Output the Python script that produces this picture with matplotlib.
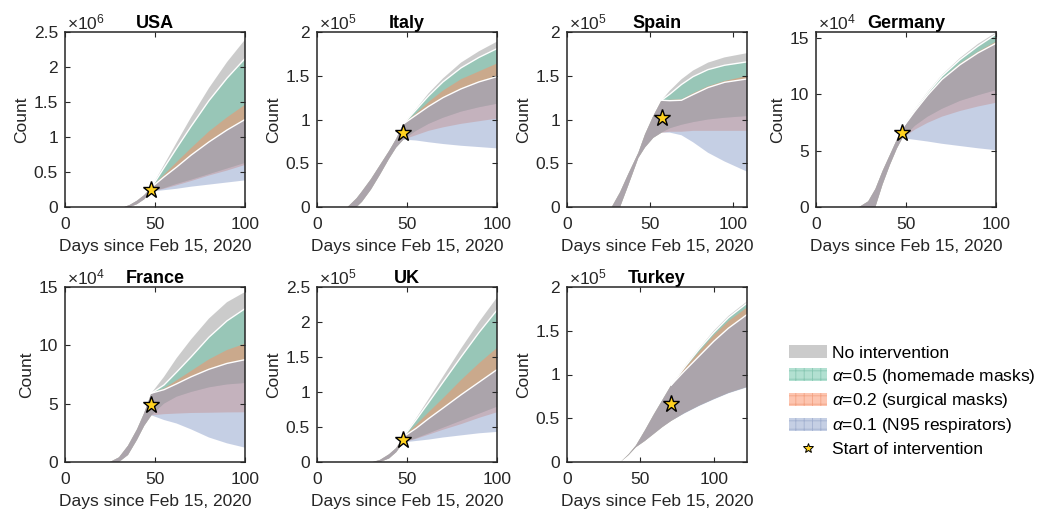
import matplotlib
matplotlib.use('Agg')
import matplotlib.pyplot as plt
from matplotlib.patches import Patch
from matplotlib.lines import Line2D
from matplotlib.ticker import FuncFormatter

plt.rcParams['font.family'] = ['Liberation Sans', 'DejaVu Sans']
plt.rcParams['mathtext.fontset'] = 'custom'
plt.rcParams['mathtext.rm'] = 'Liberation Sans'
plt.rcParams['mathtext.it'] = 'Liberation Sans:italic'
plt.rcParams['hatch.linewidth'] = 0.6

# ---------------- data (counts in units of the axis multiplier) ----------------
# USA (x1e6)
usa_pre_days = [33, 36, 40, 44, 48]
usa_pre_lo = [0, 0, 0.04, 0.11, 0.22]
usa_pre_hi = [0, 0.03, 0.09, 0.17, 0.28]
usa_days = [48, 55, 62, 70, 80, 90, 100]
usa_none_hi = [0.28, 0.60, 0.92, 1.28, 1.70, 2.07, 2.39]
usa_none_lo = [0.22, 0.27, 0.33, 0.39, 0.47, 0.55, 0.63]
usa_a5_hi = [0.28, 0.56, 0.84, 1.15, 1.52, 1.84, 2.12]
usa_a5_lo = [0.22, 0.27, 0.33, 0.39, 0.47, 0.55, 0.63]
usa_a2_hi = [0.28, 0.46, 0.64, 0.84, 1.08, 1.28, 1.46]
usa_a2_lo = [0.22, 0.26, 0.31, 0.37, 0.45, 0.52, 0.60]
usa_a1_hi = [0.28, 0.43, 0.57, 0.74, 0.93, 1.10, 1.25]
usa_a1_lo = [0.22, 0.24, 0.26, 0.29, 0.32, 0.35, 0.38]
usa_star = [48, 0.25]

# Italy (x1e5)
ita_pre_days = [17, 22, 25, 30, 35, 40, 44, 48]
ita_pre_lo = [0, 0, 0.06, 0.20, 0.37, 0.55, 0.68, 0.77]
ita_pre_hi = [0, 0.10, 0.18, 0.32, 0.48, 0.64, 0.78, 0.95]
ita_days = [48, 55, 62, 70, 80, 90, 100]
ita_none_hi = [0.95, 1.12, 1.30, 1.47, 1.65, 1.78, 1.89]
ita_none_lo = [0.77, 0.87, 0.95, 1.02, 1.09, 1.14, 1.18]
ita_a5_hi = [0.95, 1.11, 1.27, 1.43, 1.59, 1.71, 1.81]
ita_a5_lo = [0.77, 0.87, 0.95, 1.02, 1.09, 1.14, 1.18]
ita_a2_hi = [0.95, 1.07, 1.20, 1.33, 1.46, 1.55, 1.64]
ita_a2_lo = [0.77, 0.82, 0.87, 0.91, 0.95, 0.98, 1.01]
ita_a1_hi = [0.95, 1.05, 1.15, 1.25, 1.35, 1.43, 1.49]
ita_a1_lo = [0.77, 0.76, 0.74, 0.72, 0.70, 0.685, 0.67]
ita_star = [48, 0.85]

# Spain (x1e5)
esp_pre_days = [27, 32, 37, 43, 47, 52, 57]
esp_pre_lo = [0, 0, 0.25, 0.56, 0.68, 0.79, 0.85]
esp_pre_hi = [0, 0.17, 0.38, 0.62, 0.83, 1.04, 1.22]
esp_days = [57, 62, 69, 76, 85, 95, 109]
esp_none_hi = [1.22, 1.33, 1.46, 1.56, 1.65, 1.71, 1.76]
esp_none_lo = [0.85, 0.90, 0.94, 0.97, 1.00, 1.02, 1.04]
esp_a5_hi = [1.22, 1.29, 1.40, 1.49, 1.57, 1.62, 1.66]
esp_a5_lo = [0.85, 0.90, 0.94, 0.97, 1.00, 1.02, 1.04]
esp_a2_hi = [1.22, 1.225, 1.23, 1.30, 1.38, 1.44, 1.50]
esp_a2_lo = [0.85, 0.86, 0.86, 0.87, 0.87, 0.87, 0.87]
esp_a1_hi = [1.22, 1.215, 1.22, 1.285, 1.365, 1.425, 1.465]
esp_a1_lo = [0.85, 0.85, 0.82, 0.74, 0.62, 0.52, 0.40]
esp_star = [57, 1.02]

# Germany (x1e4)
deu_pre_days = [24, 29, 33, 37, 41, 45, 48]
deu_pre_lo = [0, 0, 0, 2.0, 3.7, 5.2, 6.1]
deu_pre_hi = [0, 0.5, 1.6, 3.2, 4.6, 6.0, 7.0]
deu_days = [48, 55, 62, 70, 80, 90, 100]
deu_none_hi = [7.0, 8.7, 10.2, 11.7, 13.2, 14.45, 15.45]
deu_none_lo = [6.1, 7.2, 8.0, 8.7, 9.4, 9.9, 10.35]
deu_a5_hi = [7.0, 8.65, 10.1, 11.6, 13.05, 14.25, 15.3]
deu_a5_lo = [6.1, 7.2, 8.0, 8.7, 9.4, 9.9, 10.35]
deu_a2_hi = [7.0, 8.55, 9.95, 11.35, 12.7, 13.75, 14.65]
deu_a2_lo = [6.1, 6.85, 7.45, 8.0, 8.5, 8.9, 9.23]
deu_a1_hi = [7.0, 8.5, 9.9, 11.3, 12.6, 13.65, 14.5]
deu_a1_lo = [6.1, 5.95, 5.8, 5.6, 5.4, 5.2, 5.03]
deu_star = [48, 6.57]

# France (x1e4)
fra_pre_days = [25, 30, 35, 40, 44, 48]
fra_pre_lo = [0, 0, 0.6, 1.9, 3.1, 4.0]
fra_pre_hi = [0, 0.4, 1.4, 2.8, 4.2, 5.9]
fra_days = [48, 55, 62, 70, 80, 90, 100]
fra_none_hi = [5.9, 7.3, 8.9, 10.5, 12.3, 13.7, 14.57]
fra_none_lo = [4.0, 5.0, 5.6, 6.0, 6.4, 6.65, 6.77]
fra_a5_hi = [5.9, 6.6, 7.7, 9.0, 10.7, 12.1, 13.14]
fra_a5_lo = [4.0, 5.0, 5.6, 6.0, 6.4, 6.65, 6.77]
fra_a2_hi = [5.9, 6.3, 7.0, 7.8, 8.8, 9.6, 10.14]
fra_a2_lo = [4.0, 4.1, 4.15, 4.2, 4.22, 4.25, 4.26]
fra_a1_hi = [5.9, 6.2, 6.7, 7.3, 7.95, 8.45, 8.77]
fra_a1_lo = [4.0, 3.6, 3.3, 2.8, 2.1, 1.6, 1.23]
fra_star = [48, 4.86]

# UK (x1e5)
gbr_pre_days = [31, 35, 40, 44, 48]
gbr_pre_lo = [0, 0, 0.05, 0.14, 0.28]
gbr_pre_hi = [0, 0.03, 0.11, 0.20, 0.36]
gbr_days = [48, 55, 62, 70, 80, 90, 100]
gbr_none_hi = [0.36, 0.62, 0.90, 1.22, 1.62, 2.00, 2.35]
gbr_none_lo = [0.28, 0.34, 0.41, 0.49, 0.59, 0.69, 0.79]
gbr_a5_hi = [0.36, 0.60, 0.85, 1.14, 1.50, 1.85, 2.17]
gbr_a5_lo = [0.28, 0.34, 0.41, 0.49, 0.59, 0.69, 0.79]
gbr_a2_hi = [0.36, 0.53, 0.71, 0.91, 1.17, 1.41, 1.63]
gbr_a2_lo = [0.28, 0.33, 0.39, 0.46, 0.54, 0.63, 0.71]
gbr_a1_hi = [0.36, 0.48, 0.62, 0.77, 0.96, 1.14, 1.32]
gbr_a1_lo = [0.28, 0.30, 0.32, 0.35, 0.38, 0.41, 0.43]
gbr_star = [48, 0.31]

# Turkey (x1e5)
tur_pre_days = [36.5, 42, 47, 53, 59, 65, 71]
tur_pre_lo = [0, 0.08, 0.17, 0.24, 0.32, 0.40, 0.47]
tur_pre_hi = [0, 0.09, 0.19, 0.36, 0.54, 0.71, 0.88]
tur_days = [71, 80, 90, 100, 110, 123]
tur_none_hi = [0.88, 1.09, 1.30, 1.50, 1.67, 1.84]
tur_none_lo = [0.47, 0.56, 0.645, 0.72, 0.79, 0.86]
tur_a5_hi = [0.88, 1.08, 1.29, 1.48, 1.65, 1.82]
tur_a5_lo = [0.47, 0.56, 0.645, 0.72, 0.79, 0.86]
tur_a2_hi = [0.88, 1.07, 1.26, 1.45, 1.61, 1.77]
tur_a2_lo = [0.47, 0.56, 0.645, 0.72, 0.79, 0.86]
tur_a1_hi = [0.88, 1.04, 1.21, 1.38, 1.53, 1.69]
tur_a1_lo = [0.47, 0.555, 0.64, 0.715, 0.785, 0.855]
tur_star = [71, 0.66]

titles = ['USA', 'Italy', 'Spain', 'Germany', 'France', 'UK', 'Turkey']
exponents = [6, 5, 5, 4, 4, 5, 5]
xmaxes = [100, 100, 108.5, 100, 100, 100, 122.6]
ymaxes = [2.5, 2, 2, 15.5, 15, 2.5, 2]
yticks_list = [[0, 0.5, 1, 1.5, 2, 2.5], [0, 0.5, 1, 1.5, 2], [0, 0.5, 1, 1.5, 2],
               [0, 5, 10, 15], [0, 5, 10, 15], [0, 0.5, 1, 1.5, 2, 2.5],
               [0, 0.5, 1, 1.5, 2]]
xticks = [0, 50, 100]
legend_labels = ['No intervention', r'$\alpha$=0.5 (homemade masks)',
                 r'$\alpha$=0.2 (surgical masks)', r'$\alpha$=0.1 (N95 respirators)',
                 'Start of intervention']

countries = [
    (usa_pre_days, usa_pre_lo, usa_pre_hi, usa_days,
     [(usa_none_lo, usa_none_hi), (usa_a5_lo, usa_a5_hi), (usa_a2_lo, usa_a2_hi), (usa_a1_lo, usa_a1_hi)], usa_star),
    (ita_pre_days, ita_pre_lo, ita_pre_hi, ita_days,
     [(ita_none_lo, ita_none_hi), (ita_a5_lo, ita_a5_hi), (ita_a2_lo, ita_a2_hi), (ita_a1_lo, ita_a1_hi)], ita_star),
    (esp_pre_days, esp_pre_lo, esp_pre_hi, esp_days,
     [(esp_none_lo, esp_none_hi), (esp_a5_lo, esp_a5_hi), (esp_a2_lo, esp_a2_hi), (esp_a1_lo, esp_a1_hi)], esp_star),
    (deu_pre_days, deu_pre_lo, deu_pre_hi, deu_days,
     [(deu_none_lo, deu_none_hi), (deu_a5_lo, deu_a5_hi), (deu_a2_lo, deu_a2_hi), (deu_a1_lo, deu_a1_hi)], deu_star),
    (fra_pre_days, fra_pre_lo, fra_pre_hi, fra_days,
     [(fra_none_lo, fra_none_hi), (fra_a5_lo, fra_a5_hi), (fra_a2_lo, fra_a2_hi), (fra_a1_lo, fra_a1_hi)], fra_star),
    (gbr_pre_days, gbr_pre_lo, gbr_pre_hi, gbr_days,
     [(gbr_none_lo, gbr_none_hi), (gbr_a5_lo, gbr_a5_hi), (gbr_a2_lo, gbr_a2_hi), (gbr_a1_lo, gbr_a1_hi)], gbr_star),
    (tur_pre_days, tur_pre_lo, tur_pre_hi, tur_days,
     [(tur_none_lo, tur_none_hi), (tur_a5_lo, tur_a5_hi), (tur_a2_lo, tur_a2_hi), (tur_a1_lo, tur_a1_hi)], tur_star),
]

# ---------------- styling ----------------
band_colors = ['#999999', '#66C2A5', '#FC8D62', '#8DA0CB']
BAND_ALPHA = 0.5
STAR_COLOR = '#FFD21F'
AX_COLOR = '#262626'
FS = 12.5

W, H = 1040, 516
fig = plt.figure(figsize=(W / 100, H / 100), dpi=100)

lefts = [65, 317, 567, 816]
ax_w, ax_h = 180, 175
tops = [32, 287]

fmt = FuncFormatter(lambda v, p: f'{v:g}')

for i, (pre_d, pre_lo, pre_hi, days, bands, star) in enumerate(countries):
    row, col = divmod(i, 4)
    left = lefts[col]
    top = tops[row]
    ax = fig.add_axes([left / W, (H - top - ax_h) / H, ax_w / W, ax_h / H])

    x = list(pre_d) + list(days[1:])
    for (lo, hi), c in zip(bands, band_colors):
        ax.fill_between(x, list(pre_lo) + list(lo[1:]), list(pre_hi) + list(hi[1:]),
                        facecolor=c, alpha=BAND_ALPHA, lw=0, edgecolor='none')
    ax.plot(days, bands[1][1], color='white', lw=1.0)
    ax.plot(days, bands[3][1], color='white', lw=1.0)
    ax.plot([star[0]], [star[1]], marker='*', ls='none', ms=12.5,
            mfc=STAR_COLOR, mec='black', mew=1.0, zorder=5)

    ax.set_xlim(0, xmaxes[i])
    ax.set_ylim(0, ymaxes[i])
    ax.set_xticks(xticks)
    ax.set_yticks(yticks_list[i])
    ax.xaxis.set_major_formatter(fmt)
    ax.yaxis.set_major_formatter(fmt)
    ax.tick_params(direction='in', top=True, right=True, length=3.5, width=0.8,
                   labelsize=FS, colors=AX_COLOR)
    ax.tick_params(axis='x', pad=7.5)
    ax.tick_params(axis='y', pad=5)
    for sp in ax.spines.values():
        sp.set_linewidth(1.1)
        sp.set_color(AX_COLOR)
    ax.set_xlabel('Days since Feb 15, 2020', fontsize=FS, color=AX_COLOR, labelpad=4.5)
    ax.set_ylabel('Count', fontsize=FS, color=AX_COLOR, labelpad=3)
    ax.set_title(titles[i], fontsize=FS + 0.5, fontweight='bold', pad=3)
    ax.text(0.01, 1.0, '×10$^{%d}$' % exponents[i], transform=ax.transAxes,
            ha='left', va='bottom', fontsize=FS, color=AX_COLOR)

# ---------------- legend ----------------
handles = [
    Patch(facecolor=band_colors[0], alpha=BAND_ALPHA, edgecolor='none', lw=0),
    Patch(facecolor=band_colors[1], alpha=BAND_ALPHA, hatch='++', edgecolor='#5FAF95', lw=0),
    Patch(facecolor=band_colors[2], alpha=BAND_ALPHA, hatch='++', edgecolor='#E8825A', lw=0),
    Patch(facecolor=band_colors[3], alpha=BAND_ALPHA, hatch='++', edgecolor='#8093BC', lw=0),
    Line2D([], [], marker='*', ls='none', ms=7, mfc=STAR_COLOR, mec='black', mew=0.7),
]
fig.legend(handles, legend_labels, loc='upper left',
           bbox_to_anchor=(789 / W, (H - 345) / H), frameon=False,
           fontsize=FS, handlelength=2.2, handleheight=0.8, handletextpad=0.25,
           labelspacing=0.34, borderpad=0, borderaxespad=0)

fig.savefig('out.png', dpi=100)
